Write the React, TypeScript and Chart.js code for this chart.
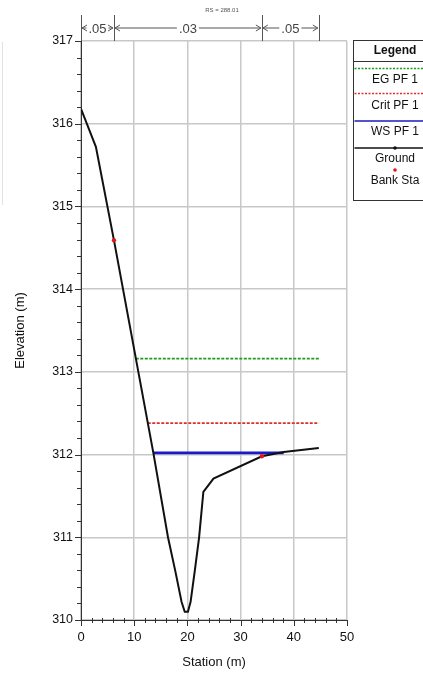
import React, { useEffect, useRef } from "react";
import { Chart, registerables } from "chart.js";

Chart.register(...registerables);

const groundStation = [0, 2.8, 6.2, 13.6, 16.35, 17.7, 18.9, 19.5, 20.1, 20.6, 21.4, 22.2, 23.0, 24.9, 34.0, 38.1, 44.7];
const groundElev = [316.18, 315.72, 314.59, 312.02, 311.0, 310.6, 310.22, 310.1, 310.1, 310.22, 310.6, 311.0, 311.55, 311.71, 311.98, 312.03, 312.08];

const bankStation = [6.2, 34.0];
const bankElev = [314.59, 311.98];

const egStation = [10.3, 44.7];
const egElev = [313.16, 313.16];
const critStation = [12.55, 44.7];
const critElev = [312.38, 312.38];
const wsStation = [13.6, 38.1];
const wsElev = [312.02, 312.02];

const nBoundaries = [0, 6.2, 34.0, 44.7];
const nValues = [".05", ".03", ".05"];

const xTicks = [0, 10, 20, 30, 40, 50];
const yTicks = [310, 311, 312, 313, 314, 315, 316, 317];

const legendLabels = ["EG PF 1", "Crit PF 1", "WS PF 1", "Ground", "Bank Sta"];
const rsLabel = "RS = 288.01";

const FONT = "'Liberation Sans', Arial, sans-serif";

const toPts = (xs: number[], ys: number[]) => xs.map((x, i) => ({ x, y: ys[i] }));

const overlayPlugin = {
  id: "overlay",
  afterDraw(chart: any) {
    const ctx = chart.ctx as CanvasRenderingContext2D;
    const xs = chart.scales.x;
    const ys = chart.scales.y;
    const area = chart.chartArea;
    ctx.save();

    // minor / major ticks
    ctx.strokeStyle = "#333";
    ctx.lineWidth = 1;
    for (let v = 310; v <= 317.001; v += 0.2) {
      const py = Math.round(ys.getPixelForValue(v)) + 0.5;
      const major = Math.abs(v - Math.round(v)) < 0.01;
      ctx.beginPath();
      ctx.moveTo(area.left - (major ? 6 : 4), py);
      ctx.lineTo(area.left, py);
      ctx.stroke();
    }
    for (let v = 0; v <= 50.001; v += 2) {
      const px = Math.round(xs.getPixelForValue(v)) + 0.5;
      const major = Math.abs(v / 10 - Math.round(v / 10)) < 0.01;
      ctx.beginPath();
      ctx.moveTo(px, area.bottom - (major ? 0 : 2));
      ctx.lineTo(px, area.bottom + (major ? 6 : 3));
      ctx.stroke();
    }

    // RS label
    ctx.fillStyle = "#555";
    ctx.font = `6px ${FONT}`;
    ctx.textAlign = "center";
    ctx.textBaseline = "middle";
    ctx.fillText(rsLabel, 222, 10);

    // n-value annotations
    ctx.strokeStyle = "#555";
    ctx.fillStyle = "#444";
    ctx.lineWidth = 1;
    const yTop = 15;
    const yArrow = 28;
    nBoundaries.forEach((b) => {
      const px = Math.round(xs.getPixelForValue(b)) + 0.5;
      ctx.beginPath();
      ctx.moveTo(px, yTop);
      ctx.lineTo(px, area.top);
      ctx.stroke();
    });
    ctx.font = `13px ${FONT}`;
    for (let i = 0; i < nValues.length; i++) {
      const x1 = xs.getPixelForValue(nBoundaries[i]) + 1;
      const x2 = xs.getPixelForValue(nBoundaries[i + 1]) - 1;
      const cx = (x1 + x2) / 2;
      const tw = ctx.measureText(nValues[i]).width;
      ctx.fillText(nValues[i], cx, yArrow + 1);
      const tl = cx - tw / 2 - 2;
      const tr = cx + tw / 2 + 2;
      ctx.beginPath();
      ctx.moveTo(x1, yArrow);
      ctx.lineTo(tl, yArrow);
      ctx.moveTo(tr, yArrow);
      ctx.lineTo(x2, yArrow);
      ctx.moveTo(x1 + 5, yArrow - 3);
      ctx.lineTo(x1, yArrow);
      ctx.lineTo(x1 + 5, yArrow + 3);
      ctx.moveTo(x2 - 5, yArrow - 3);
      ctx.lineTo(x2, yArrow);
      ctx.lineTo(x2 - 5, yArrow + 3);
      ctx.stroke();
    }

    // faint left box edge
    ctx.strokeStyle = "#e2e2e2";
    ctx.beginPath();
    ctx.moveTo(2.5, 42);
    ctx.lineTo(2.5, 205);
    ctx.stroke();

    // legend box
    const L = 353.5, T = 40.5, R = 440, B = 200.5;
    const cx = 395;
    ctx.fillStyle = "#fff";
    ctx.fillRect(L, T, R - L, B - T);
    ctx.strokeStyle = "#333";
    ctx.lineWidth = 1;
    ctx.strokeRect(L, T, R - L, B - T);
    ctx.beginPath();
    ctx.moveTo(L, 61.5);
    ctx.lineTo(R, 61.5);
    ctx.stroke();
    ctx.fillStyle = "#111";
    ctx.textAlign = "center";
    ctx.textBaseline = "middle";
    ctx.font = `bold 12px ${FONT}`;
    ctx.fillText("Legend", cx, 51);
    ctx.font = `12px ${FONT}`;

    const drawSample = (y: number, color: string, dash: number[], w: number) => {
      ctx.save();
      ctx.strokeStyle = color;
      ctx.lineWidth = w;
      ctx.setLineDash(dash);
      ctx.beginPath();
      ctx.moveTo(L + 1, y);
      ctx.lineTo(R, y);
      ctx.stroke();
      ctx.restore();
    };
    drawSample(68.5, "#1e9a1e", [2, 1.5], 1.5);
    ctx.fillText(legendLabels[0], cx, 80);
    drawSample(93.5, "#d83030", [2, 1.5], 1.5);
    ctx.fillText(legendLabels[1], cx, 106);
    drawSample(121, "#1a1ab8", [], 1.5);
    ctx.fillText(legendLabels[2], cx, 132);
    drawSample(148, "#111", [], 1.5);
    ctx.beginPath();
    ctx.arc(cx, 148, 1.8, 0, Math.PI * 2);
    ctx.fill();
    ctx.fillText(legendLabels[3], cx, 159);
    ctx.fillStyle = "#e01818";
    ctx.beginPath();
    ctx.arc(cx, 170, 1.8, 0, Math.PI * 2);
    ctx.fill();
    ctx.fillStyle = "#111";
    ctx.fillText(legendLabels[4], cx, 181);

    ctx.restore();
  },
};

export default function App() {
  const ref = useRef<HTMLCanvasElement | null>(null);

  useEffect(() => {
    if (!ref.current) return;
    const chart = new Chart(ref.current, {
      type: "line",
      data: {
        datasets: [
          {
            label: "Bank Sta",
            data: toPts(bankStation, bankElev),
            showLine: false,
            pointRadius: 2.2,
            pointBackgroundColor: "#e01818",
            pointBorderWidth: 0,
            borderColor: "#e01818",
            order: 0,
          },
          {
            label: "EG PF 1",
            data: toPts(egStation, egElev),
            borderColor: "#1e9a1e",
            borderWidth: 1.6,
            borderDash: [3, 1.5],
            pointRadius: 0,
            order: 3,
          },
          {
            label: "Crit PF 1",
            data: toPts(critStation, critElev),
            borderColor: "#d83030",
            borderWidth: 1.6,
            borderDash: [3, 1.5],
            pointRadius: 0,
            order: 3,
          },
          {
            label: "WS PF 1",
            data: toPts(wsStation, wsElev),
            borderColor: "#1a1ac8",
            borderWidth: 2.6,
            pointRadius: 0,
            order: 2,
          },
          {
            label: "Ground",
            data: toPts(groundStation, groundElev),
            borderColor: "#111",
            borderWidth: 2,
            pointRadius: 0,
            cubicInterpolationMode: "default",
            order: 1,
          },
        ],
      },
      options: {
        animation: false,
        responsive: false,
        events: [],
        layout: { padding: { top: 41, right: 76, left: 0, bottom: 0 } },
        plugins: { legend: { display: false }, tooltip: { enabled: false } },
        scales: {
          x: {
            type: "linear",
            min: 0,
            max: 50,
            afterFit: (s: any) => {
              s.height = 53;
            },
            afterBuildTicks: (s: any) => {
              s.ticks = xTicks.map((v) => ({ value: v }));
            },
            grid: { color: "#c8c8c8", lineWidth: 1.5, drawTicks: false },
            border: { color: "#333", width: 1 },
            ticks: {
              padding: 10,
              color: "#111",
              font: { family: FONT, size: 13 },
              maxRotation: 0,
            },
            title: {
              display: true,
              text: "Station (m)",
              color: "#111",
              font: { family: FONT, size: 13 },
              padding: { top: 0, bottom: 3 },
            },
          },
          y: {
            type: "linear",
            min: 310,
            max: 317,
            afterFit: (s: any) => {
              s.width = 81;
            },
            afterBuildTicks: (s: any) => {
              s.ticks = yTicks.map((v) => ({ value: v }));
            },
            grid: { color: "#c8c8c8", lineWidth: 1.5, drawTicks: false },
            border: { color: "#333", width: 1 },
            ticks: {
              padding: 8,
              color: "#111",
              font: { family: FONT, size: 12.5 },
            },
            title: {
              display: true,
              text: "Elevation (m)",
              color: "#111",
              font: { family: FONT, size: 13 },
              padding: { top: 13, bottom: 0 },
            },
          },
        },
      },
      plugins: [overlayPlugin],
    } as any);
    return () => chart.destroy();
  }, []);

  return (
    <div style={{ position: "absolute", left: 0, top: 0, width: 423, height: 673, background: "#fff" }}>
      <canvas ref={ref} width={423} height={673} style={{ width: 423, height: 673, display: "block" }} />
    </div>
  );
}
